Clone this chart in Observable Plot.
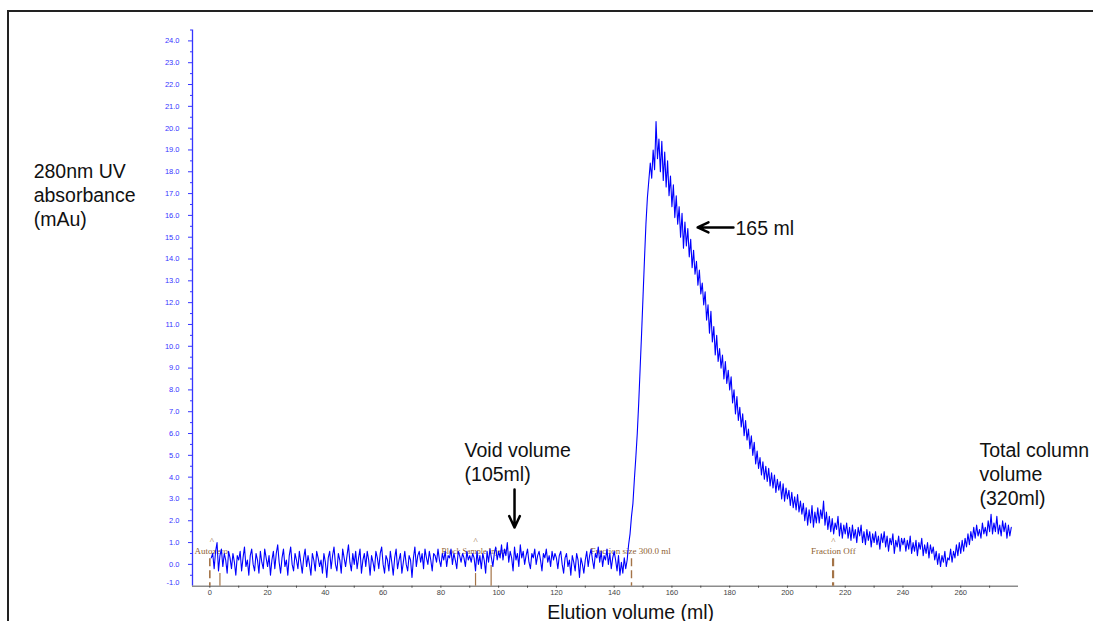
<!DOCTYPE html>
<html>
<head>
<meta charset="utf-8">
<script src="https://cdn.jsdelivr.net/npm/d3@7"></script>
<script src="https://cdn.jsdelivr.net/npm/@observablehq/plot@0.6"></script>
<style>
  html, body { margin: 0; padding: 0; background: #fff; overflow: hidden; }
  #wrap { position: relative; width: 1093px; height: 621px; }
  #frame { position: absolute; left: 7px; top: 10px; width: 1200px; height: 700px;
           border-left: 2px solid #222; border-top: 2px solid #222; }
  #chart { position: absolute; left: 0; top: 0; }
</style>
</head>
<body>
<div id="wrap"><div id="frame"></div><div id="chart"></div></div>
<script>
// ---- Data ----
const volumeStart = 0.5;   // ml of first sample
const volumeStep = 0.5;    // ml between samples
const absorbance = [
  0.3,0.5,-0.2,0.6,1.0,-0.3,0.4,0.7,-0.1,0.5,0.2,-0.4,0.6,0.3,-0.2,0.5,0.1,-0.5,0.4,0.2,
  0.6,-0.3,0.3,0.8,-0.1,0.2,-0.5,0.4,0.7,0.0,-0.3,0.5,0.2,-0.4,0.6,0.1,-0.2,0.7,0.3,-0.1,
  0.4,-0.5,0.2,0.6,-0.2,0.5,0.9,0.1,-0.4,0.3,0.7,-0.1,0.2,-0.5,0.4,0.8,0.0,-0.3,0.5,0.2,
  -0.2,0.6,0.1,-0.4,0.3,0.7,-0.1,0.4,0.0,-0.5,0.5,0.2,-0.3,0.6,0.3,-0.1,0.2,-0.4,0.5,0.1,
  -0.6,0.3,0.6,-0.2,0.4,0.8,0.0,-0.3,0.5,0.2,-0.4,0.7,0.3,-0.1,0.4,0.9,0.1,-0.3,0.5,0.0,
  0.6,-0.2,0.3,0.7,-0.4,0.2,0.5,-0.1,0.6,0.2,-0.5,0.4,0.1,-0.3,0.6,0.3,-0.2,0.5,0.8,0.0,
  -0.4,0.4,0.2,-0.3,0.6,0.1,-0.5,0.3,0.7,-0.2,0.2,0.5,-0.4,0.1,0.6,0.0,-0.3,0.4,0.2,-0.6,
  0.3,0.8,-0.1,0.4,0.6,0.1,0.5,-0.2,0.7,0.3,0.0,0.6,0.2,-0.3,0.5,0.4,0.1,0.7,0.2,-0.1,
  0.5,0.2,0.6,-0.1,0.4,0.3,0.7,0.0,0.5,0.2,-0.2,0.6,0.4,0.1,0.5,0.3,-0.1,0.6,0.2,0.4,
  0.1,0.5,0.3,-0.3,0.6,0.0,0.4,-0.2,0.5,0.2,-0.4,0.6,0.1,0.7,0.3,-0.1,0.5,0.8,0.2,0.6,
  0.3,0.9,0.2,0.7,0.4,1.0,0.1,0.6,0.3,-0.3,0.8,0.2,0.5,-0.1,0.9,0.3,0.6,0.0,0.4,0.7,
  0.1,-0.2,0.5,0.3,0.7,0.0,0.4,0.6,0.2,-0.3,0.5,0.3,0.7,0.1,0.4,-0.1,0.6,0.2,0.5,0.3,
  -0.2,0.4,0.6,0.0,-0.4,0.3,0.5,-0.1,0.2,-0.5,0.4,0.1,-0.3,0.5,0.2,-0.6,0.3,0.0,-0.4,0.2,
  0.6,-0.1,0.4,0.7,0.2,-0.2,0.5,0.3,0.8,0.1,0.6,-0.1,0.4,0.2,0.7,0.0,0.5,-0.2,0.3,0.6,
  0.2,-0.3,0.4,-0.5,0.1,-0.4,0.3,-0.2,0.2,0.9,1.4,2.2,2.8,3.9,4.9,6.0,7.4,9.0,10.6,12.3,
  14.0,15.6,16.8,17.6,18.4,17.7,19.0,18.1,20.3,18.6,19.5,18.0,19.4,17.6,18.9,17.3,18.5,16.9,17.8,16.4,
  17.4,15.9,16.9,15.6,16.4,15.0,16.1,14.5,15.7,14.6,15.4,14.1,14.9,13.6,14.4,13.3,13.9,12.8,13.5,12.4,
  12.9,11.9,12.5,11.2,11.9,10.6,11.6,10.2,10.9,9.6,10.5,9.3,9.9,9.0,9.6,8.5,9.3,8.3,8.9,8.0,
  8.6,7.4,8.0,6.9,7.7,6.6,7.2,6.3,6.9,5.9,6.6,5.7,6.2,5.3,5.9,5.0,5.6,4.6,5.2,4.4,
  4.9,4.1,4.7,3.9,4.5,3.8,4.4,3.6,4.2,3.5,4.1,3.3,3.9,3.4,3.8,3.0,3.7,2.9,3.5,3.0,
  3.4,2.7,3.3,2.6,3.1,2.5,3.2,2.4,2.9,2.3,2.8,2.0,2.6,1.8,2.5,1.9,2.7,1.7,2.4,1.9,
  2.6,1.9,2.5,2.1,2.9,1.8,2.4,1.6,2.2,1.5,2.1,1.4,1.9,1.6,2.2,1.3,1.9,1.2,1.8,1.4,
  1.9,1.2,1.7,1.1,1.8,1.2,1.6,1.0,1.7,1.3,1.8,1.0,1.5,0.9,1.6,1.1,1.5,0.8,1.4,1.0,
  1.5,0.9,1.3,0.7,1.4,1.0,1.5,0.8,1.3,0.6,1.2,0.9,1.4,0.5,1.1,0.8,1.3,0.6,1.2,0.9,
  1.2,0.6,1.1,0.7,1.3,0.5,1.0,0.6,1.1,0.4,1.0,0.7,1.2,0.4,0.9,0.5,1.0,0.3,0.9,0.5,
  0.8,0.2,0.6,0.0,0.5,-0.1,0.4,0.1,0.6,-0.1,0.3,0.2,0.7,0.1,0.6,0.3,0.9,0.4,1.0,0.5,
  1.1,0.6,1.2,0.8,1.4,0.9,1.5,1.1,1.7,1.2,1.8,1.3,1.6,1.2,1.9,1.4,1.7,1.3,2.0,1.5,
  2.3,1.4,1.9,1.5,2.2,1.4,1.8,1.3,2.0,1.5,1.9,1.2,1.8,1.3,1.7
];

const yTickValues = [0,1,2,3,4,5,6,7,8,9,10,11,12,13,14,15,16,17,18,19,20,21,22,23,24];
const yMinorTicks = [0.5,1.5,2.5,3.5,4.5,5.5,6.5,7.5,8.5,9.5,10.5,11.5,12.5,13.5,14.5,15.5,16.5,17.5,18.5,19.5,20.5,21.5,22.5,23.5,24.5,-0.5];
const xTickValues = [0,20,40,60,80,100,120,140,160,180,200,220,240,260];
const xMinorTicks = [10,30,50,70,90,110,130,150,170,190,210,230,250,270];

// fraction collector / event markers
const markerVolume = [0, 3.5, 92, 97.4, 146, 215.8];
const markerTop    = [0.26, -0.42, -0.42, -0.05, 0.26, 0.26];
const markerDashed = [true, false, false, false, true, true];
const markerWidth  = [1.6, 1.2, 1.2, 1.2, 1.4, 2.2];
const eventLabels  = ["Autozero", "Block Sample Inject", "Fraction size 300.0 ml", "Fraction Off"];
const eventLabelVolume = [0.5, 91.5, 145.7, 215.9];
const eventLabelSize = [9, 8, 9, 9];
const caretVolume  = [0.7, 92.0, 215.9];

// text annotations
const annotations = [
  {text: "280nm UV\nabsorbance\n(mAu)", vol: -61.0, abs: 16.96},
  {text: "Void volume\n(105ml)", vol: 88.2, abs: 4.72},
  {text: "Total column\nvolume\n(320ml)", vol: 266.5, abs: 4.17},
  {text: "165 ml", vol: 182.0, abs: 15.45}
];
const arrows = [
  {x1: 105.5, x2: 105.5, y1: 3.43, y2: 1.69},
  {x1: 181.3, x2: 168.9, y1: 15.45, y2: 15.45}
];

// ---- build ----
const trace = absorbance.map((a, i) => ({vol: volumeStart + i * volumeStep, abs: a}));
const markers = markerVolume.map((v, i) => ({vol: v, top: markerTop[i], dashed: markerDashed[i], w: markerWidth[i]}));
const events = eventLabels.map((t, i) => ({text: t, vol: eventLabelVolume[i], size: eventLabelSize[i]}));

const blue = "#3535ff";
const brown = "#a47448";
const labelBrown = "#8f5f33";
const annFont = "Liberation Sans, Arial, Helvetica, sans-serif";
const serif = "Liberation Serif, Times New Roman, serif";

const chart = Plot.plot({
  width: 1093,
  height: 621,
  marginLeft: 192,
  marginRight: 75,
  marginTop: 29.5,
  marginBottom: 35.3,
  x: {domain: [-6, 280], axis: null},
  y: {domain: [-1, 24.5], axis: null},
  style: {background: "transparent", fontFamily: annFont, overflow: "visible"},
  marks: [
    // axes lines
    Plot.ruleX([-6], {stroke: blue, strokeWidth: 1.3}),
    Plot.ruleY([-1], {stroke: "#8c8c8c", strokeWidth: 1.6}),
    // y axis ticks
    Plot.axisY({ticks: yTickValues, tickSize: 4, tickPadding: 9, tickFormat: d => d.toFixed(1),
                fontSize: 7.5, color: blue, anchor: "left"}),
    Plot.axisY({ticks: yMinorTicks, tickSize: 2, tickFormat: () => "", color: blue, anchor: "left"}),
    Plot.text([-1], {y: d => d, frameAnchor: "left", dx: -13, dy: -4, textAnchor: "end",
                     text: d => d.toFixed(1), fill: blue, fontSize: 7.5}),
    // x axis ticks
    Plot.axisX({ticks: xTickValues, tickSize: 2, tickPadding: 1.5, fontSize: 7.5, color: "#444", anchor: "bottom"}),
    Plot.axisX({ticks: xMinorTicks, tickSize: 2, tickFormat: () => "", color: "#444", anchor: "bottom"}),
    // event markers
    Plot.ruleX(markers.filter(d => d.dashed), {x: "vol", y1: "top", y2: -1, stroke: brown,
               strokeWidth: "w", strokeDasharray: "8,4"}),
    Plot.ruleX(markers.filter(d => !d.dashed), {x: "vol", y1: "top", y2: -1, stroke: brown,
               strokeWidth: "w"}),
    Plot.text(events, {x: "vol", y: 0.6, text: "text", fill: labelBrown, fontSize: d => d.size, fontFamily: serif}),
    Plot.text(caretVolume, {x: d => d, y: 1.09, text: () => "^", fill: labelBrown, fontSize: 9, fontFamily: serif}),
    // UV trace
    Plot.line(trace, {x: "vol", y: "abs", stroke: "#0000ff", strokeWidth: 1.1}),
    // annotations
    Plot.text(annotations, {x: "vol", y: "abs", text: "text", textAnchor: "start", lineAnchor: "middle",
              lineHeight: 1.22, fontSize: 19.5, fill: "#111", fontFamily: annFont}),
    Plot.arrow(arrows, {x1: "x1", y1: "y1", x2: "x2", y2: "y2", stroke: "#000", strokeWidth: 2.5,
              headLength: 11, headAngle: 50}),
    Plot.text(["Elution volume (ml)"], {x: 145.7, y: -2.21, text: d => d, fontSize: 19.5,
              fill: "#111", fontFamily: annFont, lineAnchor: "middle"})
  ]
});
document.getElementById("chart").appendChild(chart);
</script>
</body>
</html>
